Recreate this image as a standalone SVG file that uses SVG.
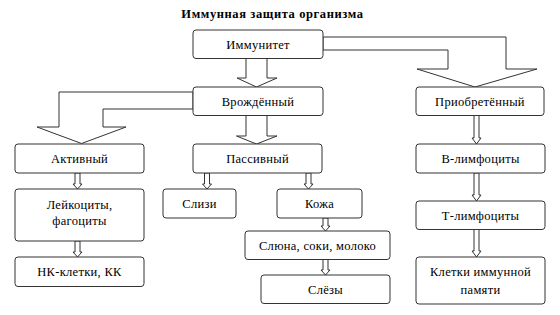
<svg xmlns="http://www.w3.org/2000/svg" width="560" height="315" viewBox="0 0 560 315">
<style>
.box{fill:#fff;stroke:#333;stroke-width:1}
.arr{fill:#fff;stroke:#333;stroke-width:1;stroke-linejoin:miter}
.t{font-size:12.5px;fill:#000;text-anchor:middle;letter-spacing:0.3px}
.title{font-size:12.5px;font-weight:bold;fill:#000;text-anchor:middle;letter-spacing:0.6px}
</style>
<rect width="560" height="315" fill="#fff"/>
<g font-family="Liberation Serif, Times New Roman, DejaVu Serif, serif">
<text class="title" x="272.5" y="18">Иммунная защита организма</text>
<g id="connectors">
<path class="arr" d="M246,58.5 V78 H237 L256.5,87 L277,78 H267 V58.5 Z"/>
<path class="arr" d="M323,37 H506 V69 H537 L475,87 L417,69 H448 V50 H323 Z"/>
<path class="arr" d="M193,92 H59 V127 H37 L81.5,143.5 L126,127 H103 V109 H193 Z"/>
<path class="arr" d="M246,115.5 V136 H236.5 L256.5,144 L277,136 H267 V115.5 Z"/>
<path class="arr" d="M75,173 V184 H73 L77.5,189 L82,184 H80 V173 Z"/>
<path class="arr" d="M75,241 V252 H73 L77.5,257 L82,252 H80 V241 Z"/>
<path class="arr" d="M204.5,173 V184 H202.5 L207,189 L211.5,184 H209.5 V173 Z"/>
<path class="arr" d="M306,173 V184 H304 L308.5,189 L313,184 H311 V173 Z"/>
<path class="arr" d="M323,218 V226 H321 L325.5,231 L330,226 H328 V218 Z"/>
<path class="arr" d="M323,259 V270 H321 L325.5,275 L330,270 H328 V259 Z"/>
<path class="arr" d="M474,115.5 V138 H472 L476.5,144 L481,138 H479 V115.5 Z"/>
<path class="arr" d="M474,173 V195 H472 L476.5,201 L481,195 H479 V173 Z"/>
<path class="arr" d="M474,229 V251 H472 L476.5,257 L481,251 H479 V229 Z"/>
</g>
<g id="n-immunitet"><rect class="box" x="193" y="30" width="130" height="28.5" rx="3"/><text class="t" x="258" y="49">Иммунитет</text></g>
<g id="n-vrozhd"><rect class="box" x="193" y="87" width="130" height="28.5" rx="3"/><text class="t" x="258" y="106">Врождённый</text></g>
<g id="n-priobr"><rect class="box" x="416" y="87" width="128" height="28.5" rx="3"/><text class="t" x="480" y="106">Приобретённый</text></g>
<g id="n-aktiv"><rect class="box" x="15" y="144" width="129" height="29" rx="3"/><text class="t" x="79.5" y="163">Активный</text></g>
<g id="n-passiv"><rect class="box" x="193" y="144" width="129" height="29" rx="3"/><text class="t" x="257.5" y="163">Пассивный</text></g>
<g id="n-blimf"><rect class="box" x="416" y="144" width="129" height="29" rx="3"/><text class="t" x="480.5" y="163">В-лимфоциты</text></g>
<g id="n-leik"><rect class="box" x="15" y="189" width="129" height="52" rx="3"/><text class="t" x="79.5" y="209">Лейкоциты,</text><text class="t" x="79.5" y="225">фагоциты</text></g>
<g id="n-slizi"><rect class="box" x="163" y="189" width="73" height="29" rx="3"/><text class="t" x="199.5" y="208">Слизи</text></g>
<g id="n-kozha"><rect class="box" x="277" y="189" width="85" height="29" rx="3"/><text class="t" x="319.5" y="208">Кожа</text></g>
<g id="n-tlimf"><rect class="box" x="416" y="201" width="129" height="28.5" rx="3"/><text class="t" x="480.5" y="220">Т-лимфоциты</text></g>
<g id="n-sliuna"><rect class="box" x="245" y="231" width="145" height="28.5" rx="3"/><text class="t" x="317.5" y="250">Слюна, соки, молоко</text></g>
<g id="n-nk"><rect class="box" x="15" y="257" width="129" height="29.5" rx="3"/><text class="t" x="79.5" y="276">НК-клетки, КК</text></g>
<g id="n-kletki"><rect class="box" x="416" y="257" width="129" height="47" rx="3"/><text class="t" x="480.5" y="276">Клетки иммунной</text><text class="t" x="480.5" y="294">памяти</text></g>
<g id="n-slezy"><rect class="box" x="261" y="275" width="129" height="28.5" rx="3"/><text class="t" x="325.5" y="294">Слёзы</text></g>
</g>
</svg>
